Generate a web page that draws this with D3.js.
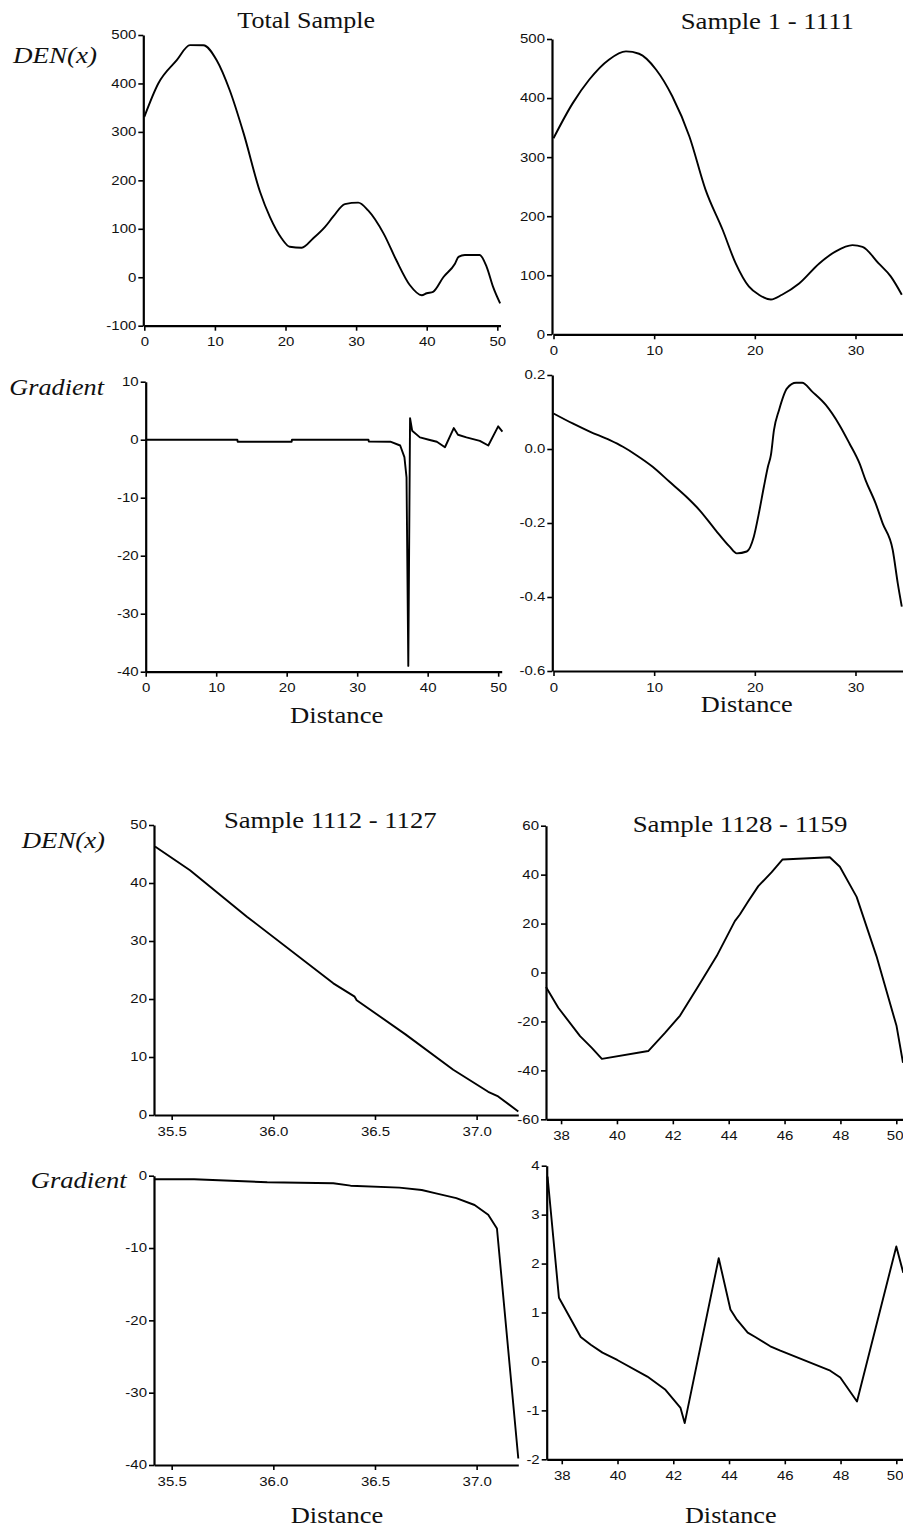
<!DOCTYPE html>
<html><head><meta charset="utf-8">
<script src="https://cdn.jsdelivr.net/npm/d3@7"></script>
<style>body{margin:0;background:#fff}svg{display:block}</style>
</head><body>
<script>
// ---------- DATA ----------
// Total sample: DEN(x)
const totalDist = [0,1.98,4.6,6.47,8.36,10.25,12.1,14.07,16.4,17.8,19.46,20.6,22.3,23.9,25.6,26.8,28.4,30.3,31.7,33.9,35.7,37.6,39.3,40.0,40.9,42.35,44,44.5,45.4,47.5,48.5,49.4,50.4];
const totalDen  = [331,400,448,479,479,448,386,297,176,124,80,63,61,80,104,126,151,154,138,90,35,-16,-37,-33,-30,0,28,42,46,46,21,-20,-54];
// Total sample: gradient
const totalGradDist = [0,13.0,13.05,20.7,20.75,31.6,31.65,34.7,36.1,36.7,37.0,37.25,37.5,37.8,38.9,40.3,41.3,42.45,43.7,44.3,45.5,47.4,48.6,50.0,50.6];
const totalGrad     = [0,0,-0.35,-0.35,0,0,-0.3,-0.35,-1.0,-3.0,-6.5,-39,3.7,1.55,0.4,-0.05,-0.35,-1.3,2.0,0.85,0.4,-0.2,-1.0,2.3,1.4];
// Sample 1 - 1111
const s1Dist = [0,1.9,3.54,5.5,7.2,8.5,10.2,11.8,13.5,15.1,16.8,18.1,19.4,20.4,21.6,22.7,24.4,26.4,28.0,29.7,30.7,32.3,33.5,34.6];
const s1Den  = [332,391,431,465,479,475,448,403,335,245,177,120,81,67,59,67,86,120,140,151,148,120,98,67];
const s1GradDist = [0,1.9,3.6,5.6,6.9,8.2,9.85,11.5,13.2,14.5,16.1,17.5,18.2,19.2,19.9,20.4,20.9,21.3,21.6,21.9,22.4,23.2,24.1,24.7,25.7,27.05,28.4,29.4,30.4,31.0,32.0,32.7,33.7,34.2,34.6];
const s1Grad     = [0.096,0.069,0.047,0.024,0.006,-0.016,-0.048,-0.088,-0.129,-0.165,-0.219,-0.264,-0.282,-0.277,-0.237,-0.174,-0.102,-0.048,-0.016,0.051,0.105,0.164,0.179,0.179,0.155,0.119,0.065,0.015,-0.039,-0.084,-0.147,-0.201,-0.273,-0.363,-0.426];
// Sample 1112 - 1127
const s2Dist = [35.418,35.59,35.87,36.295,36.40,36.41,36.65,36.885,37.057,37.106,37.205];
const s2Den  = [46.3,42.2,34.2,22.7,20.4,19.8,13.9,7.8,4.0,3.2,0.6];
const s2GradDist = [35.418,35.61,35.97,36.295,36.38,36.62,36.73,36.80,36.90,36.99,37.057,37.10,37.205];
const s2Grad     = [-0.5,-0.5,-0.9,-1.05,-1.38,-1.65,-1.98,-2.44,-3.1,-4.05,-5.4,-7.3,-39.1];
// Sample 1128 - 1159
const s3Dist = [37.46,37.9,38.68,39.1,39.46,41.12,41.72,42.26,42.91,43.57,44.22,44.4,44.7,45.06,45.54,45.93,47.62,47.98,48.58,49.29,50.01,50.24];
const s3Den  = [-5.9,-14.4,-26.0,-30.8,-35.3,-32.1,-24.7,-17.6,-5.6,6.7,21.0,23.7,29.1,35.3,41.0,46.2,47.1,43.2,30.9,6.7,-21.9,-36.9];
const s3GradDist = [37.49,37.9,38.68,39.04,39.46,39.99,41.07,41.72,42.26,42.41,43.63,44.05,44.26,44.67,44.94,45.48,45.84,47.63,47.99,48.59,50.0,50.25];
const s3Grad     = [3.78,1.30,0.50,0.34,0.18,0.03,-0.31,-0.58,-0.95,-1.26,2.11,1.06,0.87,0.59,0.50,0.31,0.22,-0.19,-0.33,-0.82,2.35,1.81];

// Tick labels
const ticksDist50 = [0,10,20,30,40,50];
const ticksDist30 = [0,10,20,30];
const ticksDistA  = [35.5,36.0,36.5,37.0];
const ticksDistB  = [38,40,42,44,46,48,50];
const ticksDenTotal = [-100,0,100,200,300,400,500];
const ticksDenS1 = [0,100,200,300,400,500];
const ticksGradTotal = [-40,-30,-20,-10,0,10];
const ticksGradS1 = [-0.6,-0.4,-0.2,0.0,0.2];
const ticksDenS2 = [0,10,20,30,40,50];
const ticksGradS2 = [-40,-30,-20,-10,0];
const ticksDenS3 = [-60,-40,-20,0,20,40,60];
const ticksGradS3 = [-2,-1,0,1,2,3,4];

// Titles & labels
const titles = ["Total Sample","Sample 1 - 1111","Sample 1112 - 1127","Sample 1128 - 1159"];
const yLabels = ["DEN(x)","Gradient"];
const xLabel = "Distance";

// ---------- DRAW ----------
const W = 903, H = 1531;
const svg = d3.select("body").append("svg").attr("width", W).attr("height", H)
  .style("background","#fff");

const fmtPlain = d => String(d).replace("\u2212","-");
const fmt1 = d => d3.format(".1f")(d).replace("\u2212","-");
const SX = 1.22;

function panel(o) {
  const x = d3.scaleLinear().domain(o.xDomain).range(o.xRange);
  const y = d3.scaleLinear().domain(o.yDomain).range(o.yRange);
  const g = svg.append("g");
  const ax = o.yAxisX !== undefined ? o.yAxisX : o.xRange[0];

  const xa = g.append("g").attr("transform", `translate(0,${o.yRange[0]})`)
    .call(d3.axisBottom(x).tickValues(o.xTicks).tickFormat(o.xFmt || fmtPlain)
      .tickSize(5).tickPadding(7).tickSizeOuter(0));
  const ya = g.append("g").attr("transform", `translate(${ax},0)`)
    .call(d3.axisLeft(y).tickValues(o.yTicks).tickFormat(o.yFmt || fmtPlain)
      .tickSize(5).tickPadding(1).tickSizeOuter(0));

  [xa, ya].forEach(a => {
    a.select(".domain").attr("stroke","#000").attr("stroke-width",2.2);
    a.selectAll(".tick line").attr("stroke","#000").attr("stroke-width",1.6);
    a.selectAll("text").attr("fill","#111")
      .style("font-family","'Liberation Sans', Arial, sans-serif")
      .style("font-size","12.3px");
  });
  xa.selectAll("text").attr("transform", `scale(${SX},1)`);
  ya.selectAll("text").attr("transform", `scale(${SX},1)`).attr("x", -7 / SX);

  // keep a label that would run past the page's right edge inside it
  xa.selectAll(".tick").each(function(d) {
    const px = x(d);
    if (px + 10 > W) {
      d3.select(this).select("text").attr("text-anchor","end").attr("x", (W - px) / SX);
    }
  });

  const pts = o.xs.map((d, i) => [d, o.ys[i]]);
  g.append("path").datum(pts)
    .attr("fill","none").attr("stroke","#000").attr("stroke-width",1.9)
    .attr("stroke-linejoin","round")
    .attr("d", d3.line().x(d => x(d[0])).y(d => y(d[1])).curve(o.curve || d3.curveLinear));
}

function label(txt, x, yb, len, opts = {}) {
  svg.append("text").attr("x", x).attr("y", yb)
    .attr("text-anchor", opts.anchor || "middle")
    .attr("textLength", len).attr("lengthAdjust","spacingAndGlyphs")
    .style("font-family","'Liberation Serif','Times New Roman',serif")
    .style("font-size", (opts.size || 23) + "px")
    .style("font-style", opts.italic ? "italic" : "normal")
    .attr("fill","#111")
    .text(txt);
}

// Panel 1: Total sample DEN
panel({xDomain:[0,50.45], xRange:[144.3,500.5], yDomain:[-100,500], yRange:[325.7,35], yAxisX:143.3,
  xTicks:ticksDist50, yTicks:ticksDenTotal, xs:totalDist, ys:totalDen, curve:d3.curveMonotoneX});
// Panel 2: Sample 1-1111 DEN
panel({xDomain:[0,34.72], xRange:[553.5,903], yDomain:[0,500], yRange:[334.3,39], yAxisX:552,
  xTicks:ticksDist30, yTicks:ticksDenS1, xs:s1Dist, ys:s1Den, curve:d3.curveMonotoneX});
// Panel 3: Total gradient
panel({xDomain:[0,50.5], xRange:[145.7,501.7], yDomain:[-40,10], yRange:[671.7,381.7],
  xTicks:ticksDist50, yTicks:ticksGradTotal, xs:totalGradDist, ys:totalGrad});
// Panel 4: Sample 1-1111 gradient
panel({xDomain:[0,34.72], xRange:[553.5,903], yDomain:[-0.6,0.2], yRange:[671,375], yAxisX:552.3,
  xTicks:ticksDist30, yTicks:ticksGradS1, xFmt:fmtPlain, yFmt:fmt1, xs:s1GradDist, ys:s1Grad, curve:d3.curveMonotoneX});
// Panel 5: Sample 1112-1127 DEN
panel({xDomain:[35.413,37.205], xRange:[154,518.3], yDomain:[0,50], yRange:[1115,825],
  xTicks:ticksDistA, yTicks:ticksDenS2, xFmt:fmt1, xs:s2Dist, ys:s2Den});
// Panel 6: Sample 1128-1159 DEN
panel({xDomain:[37.46,50.24], xRange:[546,903], yDomain:[-60,60], yRange:[1119.3,825.7],
  xTicks:ticksDistB, yTicks:ticksDenS3, xs:s3Dist, ys:s3Den});
// Panel 7: Sample 1112-1127 gradient
panel({xDomain:[35.413,37.205], xRange:[154,518.3], yDomain:[-40,0], yRange:[1465,1175.7],
  xTicks:ticksDistA, yTicks:ticksGradS2, xFmt:fmt1, xs:s2GradDist, ys:s2Grad});
// Panel 8: Sample 1128-1159 gradient
panel({xDomain:[37.46,50.24], xRange:[546.7,903], yDomain:[-2,4], yRange:[1459.3,1165.7],
  xTicks:ticksDistB, yTicks:ticksGradS3, xs:s3GradDist, ys:s3Grad});

// Titles
label(titles[0], 306.2, 28.3, 137.7);
label(titles[1], 767.3, 29.3, 173.3);
label(titles[2], 330.3, 828.3, 212.7);
label(titles[3], 740, 831.7, 214.7);
// Y labels
label(yLabels[0], 13, 63.3, 84, {anchor:"start", italic:true});
label(yLabels[1], 9.3, 395, 94.7, {anchor:"start", italic:true});
label(yLabels[0], 21.7, 848.3, 83.3, {anchor:"start", italic:true});
label(yLabels[1], 30.7, 1188.3, 96, {anchor:"start", italic:true});
// X labels
label(xLabel, 336.7, 723.3, 93.3);
label(xLabel, 746.7, 711.7, 92);
label(xLabel, 337, 1523.3, 92.6);
label(xLabel, 730.8, 1523.3, 91.7);
</script>
</body></html>
